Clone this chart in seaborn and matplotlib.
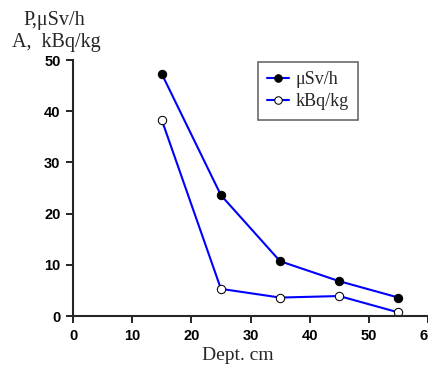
import pandas as pd
import seaborn as sns
import matplotlib.pyplot as plt

depth = [15, 25, 35, 45, 55]
dose_rate = [47.3, 23.6, 10.7, 6.8, 3.6]      # P, uSv/h
activity = [38.3, 5.3, 3.6, 3.9, 0.7]         # A, kBq/kg
x_ticks = [0, 10, 20, 30, 40, 50, 60]
y_ticks = [0, 10, 20, 30, 40, 50]

sns.set_style("ticks")
plt.rcParams["font.family"] = ["Liberation Sans", "DejaVu Sans"]

fig = plt.figure(figsize=(4.28, 3.65), dpi=100)
ax = fig.add_axes([73 / 428, 49 / 365, 355 / 428, 256 / 365])

sns.lineplot(x=depth, y=dose_rate, ax=ax, color="#0000ff", lw=1.5,
             marker="o", markersize=6, markerfacecolor="black",
             markeredgecolor="black", label="\u03bcSv/h")
sns.lineplot(x=depth, y=activity, ax=ax, color="#0000ff", lw=1.5,
             marker="o", markersize=6, markerfacecolor="white",
             markeredgecolor="black", label="kBq/kg")

ax.set_xlim(0, 60)
ax.set_ylim(0, 50)
ax.set_xticks(x_ticks)
ax.set_yticks(y_ticks)
ax.set_xticklabels([str(t) for t in x_ticks], fontweight="bold", fontsize=10.5)
ax.set_yticklabels([str(t) for t in y_ticks], fontweight="bold", fontsize=10.5)
ax.tick_params(direction="out", length=5, width=1.2, colors="black", pad=4)
ax.spines["right"].set_visible(False)
ax.spines["top"].set_visible(False)
ax.spines["left"].set_linewidth(1.5)
ax.spines["bottom"].set_linewidth(1.5)
ax.set_xlabel("")
ax.set_ylabel("")

serif = ["Liberation Serif", "DejaVu Serif"]
fig.text(54 / 428, 1 - 20 / 365, "P,\u03bcSv/h", family=serif, fontsize=14.5,
         ha="center", va="center")
fig.text(56 / 428, 1 - 42 / 365, "A,  kBq/kg", family=serif, fontsize=14.5,
         ha="center", va="center")
fig.text(238 / 428, 1 - 356 / 365, "Dept. cm", family=serif, fontsize=14,
         ha="center", va="center")

leg = ax.legend(loc="upper left", bbox_to_anchor=((258 - 73) / 355, 0.992),
                borderaxespad=0, frameon=True, fancybox=False,
                edgecolor="#444444", prop={"family": serif, "size": 13},
                handlelength=1.2, handletextpad=0.4, borderpad=0.5,
                labelspacing=0.3, markerscale=0.9)
leg.get_frame().set_linewidth(1.2)

fig.savefig("out.png", dpi=100)
